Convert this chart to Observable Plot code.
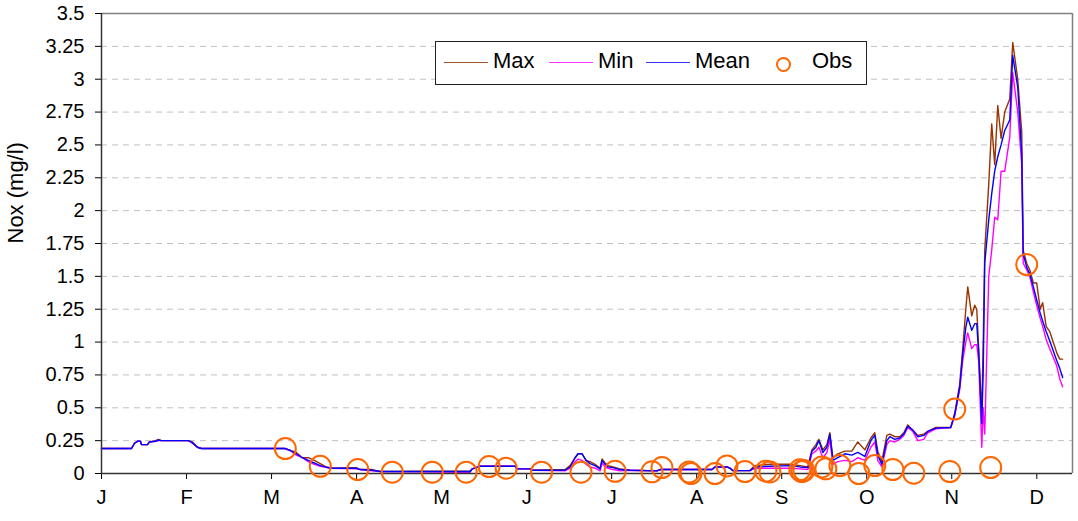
<!DOCTYPE html>
<html>
<head>
<meta charset="utf-8">
<script src="https://cdn.jsdelivr.net/npm/d3@7"></script>
<script src="https://cdn.jsdelivr.net/npm/@observablehq/plot@0.6"></script>
<style>
  body { margin: 0; background: #fff; font-family: "Liberation Sans", Arial, sans-serif; }
  #wrap { position: relative; width: 1078px; height: 521px; }
  #legend { position: absolute; left: 435px; top: 41px; width: 430px; height: 42px; border: 1px solid #222; background: #fff; font-size: 22px; color: #000; }
  #legend .ln { position: absolute; top: 20px; width: 44px; height: 0; border-top: 1.5px solid; }
  #legend .tx { position: absolute; top: 7px; line-height: 24px; }
  #legend .ob { position: absolute; left: 340px; top: 15px; width: 11px; height: 11px; border: 2px solid #ff6600; border-radius: 50%; }
</style>
</head>
<body>
<div id="wrap">
  <div id="chart"></div>
  <div id="legend">
    <div class="ln" style="left:8px;border-color:#a0522d"></div><div class="tx" style="left:57px">Max</div>
    <div class="ln" style="left:113px;border-color:#ff33ff"></div><div class="tx" style="left:162px">Min</div>
    <div class="ln" style="left:210px;border-color:#3333ff"></div><div class="tx" style="left:259px">Mean</div>
    <div class="ob"></div><div class="tx" style="left:376px">Obs</div>
  </div>
</div>
<script>
// x in months since 1 January (0 = Jan start, 1 = Feb start, ...)
const monthLabels = ["J","F","M","A","M","J","J","A","S","O","N","D"];
const monthTicks = [0,1,2,3,4,5,6,7,8,9,10,11];
const yTicks = [0,0.25,0.5,0.75,1,1.25,1.5,1.75,2,2.25,2.5,2.75,3,3.25,3.5];
const yLabel = "Nox (mg/l)";

const t = [0.000,0.353,0.388,0.423,0.458,0.470,0.541,0.564,0.635,0.670,0.705,1.022,1.069,1.128,1.175,
  2.162,2.221,2.291,2.362,2.432,2.503,2.573,2.644,2.714,2.996,3.043,3.184,3.278,4.336,4.360,4.454,4.865,4.888,5.041,5.065,
  5.452,5.511,5.570,5.605,5.652,5.699,5.746,5.805,5.864,5.887,5.922,5.958,6.016,6.099,6.216,6.533,6.569,7.039,7.180,7.215,
  7.356,7.392,7.427,7.626,7.685,7.861,8.096,8.214,8.308,8.355,8.402,8.437,8.484,8.531,8.566,8.602,8.660,8.743,8.825,8.895,
  8.978,9.048,9.095,9.130,9.177,9.236,9.272,9.330,9.389,9.436,9.483,9.542,9.600,9.671,9.718,9.812,9.988,10.035,10.094,10.129,
  10.165,10.188,10.235,10.270,10.294,10.317,10.353,10.370,10.388,10.435,10.470,10.505,10.541,10.580,10.623,10.682,10.717,10.776,10.823,10.840,
  10.881,10.917,10.960,10.999,11.040,11.069,11.110,11.152,11.234,11.270,11.304];

const meanVals = [0.19,0.19,0.23,0.245,0.245,0.22,0.22,0.24,0.245,0.255,0.25,0.25,0.235,0.20,0.19,
  0.19,0.175,0.15,0.12,0.10,0.08,0.06,0.048,0.04,0.04,0.03,0.025,0.015,0.015,0.035,0.055,0.055,0.035,0.035,0.025,
  0.025,0.05,0.12,0.15,0.15,0.10,0.075,0.06,0.035,0.10,0.07,0.05,0.045,0.03,0.025,0.02,0.03,0.03,0.03,0.05,
  0.05,0.04,0.022,0.022,0.05,0.055,0.06,0.05,0.045,0.17,0.20,0.25,0.16,0.20,0.30,0.10,0.12,0.15,0.14,0.16,
  0.13,0.25,0.29,0.14,0.07,0.25,0.28,0.26,0.27,0.30,0.36,0.33,0.28,0.29,0.32,0.345,0.35,0.45,0.66,0.91,
  1.11,1.19,1.09,1.14,1.14,0.91,0.38,0.78,1.60,1.93,2.13,2.30,2.41,2.50,2.61,2.69,3.18,2.94,2.43,1.67,
  1.57,1.52,1.42,1.32,1.22,1.16,1.08,1.01,0.86,0.80,0.73];

const maxVals = [0.19,0.19,0.23,0.245,0.245,0.22,0.22,0.24,0.25,0.26,0.25,0.25,0.24,0.20,0.19,
  0.19,0.175,0.16,0.12,0.12,0.10,0.075,0.048,0.04,0.045,0.03,0.03,0.015,0.02,0.035,0.055,0.055,0.035,0.035,0.025,
  0.03,0.06,0.12,0.15,0.15,0.10,0.09,0.07,0.04,0.11,0.08,0.06,0.05,0.035,0.025,0.02,0.03,0.03,0.03,0.05,
  0.05,0.04,0.022,0.022,0.06,0.07,0.07,0.06,0.05,0.18,0.22,0.26,0.18,0.22,0.31,0.12,0.15,0.17,0.17,0.24,
  0.18,0.27,0.31,0.17,0.09,0.29,0.30,0.28,0.28,0.31,0.37,0.33,0.29,0.30,0.32,0.35,0.35,0.46,0.68,0.95,
  1.25,1.42,1.20,1.28,1.25,0.95,0.45,1.00,1.70,2.20,2.66,2.35,2.80,2.55,2.75,2.85,3.28,3.00,2.60,1.70,
  1.60,1.55,1.45,1.45,1.25,1.30,1.12,1.08,0.92,0.87,0.87];

const minVals = [0.19,0.19,0.23,0.245,0.245,0.22,0.22,0.24,0.245,0.25,0.25,0.25,0.23,0.20,0.19,
  0.19,0.175,0.14,0.12,0.09,0.07,0.055,0.048,0.04,0.035,0.03,0.02,0.015,0.01,0.035,0.055,0.055,0.035,0.035,0.025,
  0.02,0.04,0.09,0.11,0.10,0.07,0.05,0.04,0.02,0.08,0.05,0.04,0.03,0.02,0.025,0.02,0.03,0.03,0.03,0.05,
  0.05,0.04,0.022,0.022,0.04,0.04,0.04,0.035,0.03,0.15,0.17,0.20,0.12,0.16,0.26,0.07,0.09,0.10,0.09,0.12,
  0.10,0.20,0.24,0.10,0.05,0.22,0.25,0.24,0.26,0.29,0.35,0.32,0.25,0.26,0.31,0.34,0.35,0.44,0.64,0.86,
  1.00,1.07,0.95,0.98,0.98,0.85,0.20,0.50,0.30,1.50,1.70,1.95,1.93,2.30,2.30,2.56,3.05,2.75,2.35,1.60,
  1.55,1.50,1.38,1.28,1.18,1.12,1.02,0.95,0.82,0.72,0.66];

const obsT = [2.162,2.573,3.014,3.420,3.890,4.289,4.559,4.759,5.176,5.640,6.041,6.475,6.592,6.910,6.933,7.215,7.356,
  7.568,7.814,7.861,8.214,8.237,8.261,8.472,8.519,8.684,8.907,9.095,9.307,9.553,9.977,10.035,10.458,10.881];
const obsVals = [0.19,0.055,0.03,0.01,0.01,0.01,0.053,0.04,0.01,0.01,0.017,0.013,0.045,0.012,0.0,0.0,0.058,
  0.015,0.018,0.012,0.028,0.015,0.022,0.05,0.036,0.06,0.0,0.06,0.03,0.002,0.015,0.49,0.045,1.59];

const xEnd = 11.42;

const chart = Plot.plot({
  width: 1078,
  height: 521,
  marginLeft: 101,
  marginRight: 6,
  marginTop: 13,
  marginBottom: 48,
  style: { fontFamily: "'Liberation Sans', Arial, sans-serif", fontSize: "20px", color: "#000", background: "#fff" },
  x: { domain: [0, xEnd] },
  y: { domain: [0, 3.5] },
  marks: [
    Plot.gridY(yTicks.filter(d => d > 0 && d < 3.5), { stroke: "#c0c0c0", strokeOpacity: 1, strokeDasharray: "6,5" }),
    Plot.ruleY([3.5], { stroke: "#808080", strokeWidth: 1.5 }),
    Plot.ruleX([xEnd], { stroke: "#808080", strokeWidth: 1.5 }),
    Plot.axisY(yTicks, { tickSize: 6, tickPadding: 11, tickFormat: d => String(d), fontSize: 20, label: null }),
    Plot.text([yLabel], { frameAnchor: "left", rotate: -90, dx: -86, fontSize: 22, fill: "#000" }),
    Plot.axisX(monthTicks, { tickSize: 6, tickPadding: 10, tickFormat: i => monthLabels[i], fontSize: 20, label: null }),
    Plot.lineY(maxVals, { x: t, stroke: "#993300", strokeWidth: 1.4 }),
    Plot.lineY(minVals, { x: t, stroke: "#ff00ff", strokeWidth: 1.4 }),
    Plot.lineY(meanVals, { x: t, stroke: "#0000ff", strokeWidth: 1.4 }),
    Plot.ruleX([0], { stroke: "#333", strokeWidth: 1.5 }),
    Plot.ruleY([0], { stroke: "#333", strokeWidth: 1.5 }),
    Plot.dot(obsVals, { x: obsT, y: d => d, r: 10.5, stroke: "#ff6600", strokeWidth: 2, fill: "none" })
  ]
});
document.getElementById("chart").appendChild(chart);
</script>
</body>
</html>
